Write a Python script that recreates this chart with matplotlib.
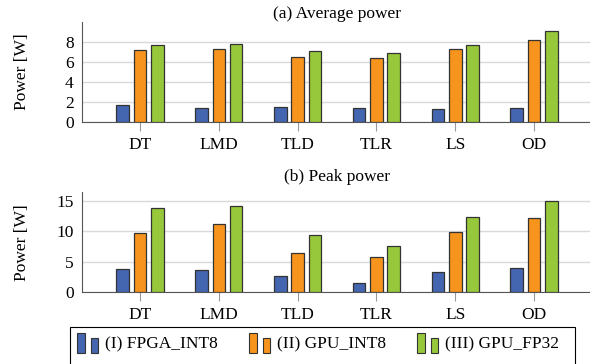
import numpy as np
import matplotlib
matplotlib.use("Agg")
import matplotlib.pyplot as plt
from matplotlib.patches import Rectangle
from matplotlib.legend_handler import HandlerBase

# data
apps = ["DT", "LMD", "TLD", "TLR", "LS", "OD"]
labels = ["(I) FPGA_INT8", "(II) GPU_INT8", "(III) GPU_FP32"]
avg_fpga = [1.73, 1.37, 1.47, 1.37, 1.33, 1.43]
avg_gpu_int8 = [7.2, 7.27, 6.53, 6.37, 7.27, 8.17]
avg_gpu_fp32 = [7.67, 7.83, 7.07, 6.9, 7.73, 9.07]
peak_fpga = [3.85, 3.64, 2.6, 1.44, 3.26, 4.03]
peak_gpu_int8 = [9.77, 11.2, 6.46, 5.8, 9.93, 12.2]
peak_gpu_fp32 = [13.86, 14.1, 9.38, 7.56, 12.36, 15.0]

colors = ["#4466B0", "#F7941D", "#97C83B"]
EDGE = "#333333"
FS = 12.5

plt.rcParams["font.family"] = ["Liberation Serif", "DejaVu Serif"]
plt.rcParams["font.size"] = FS


class TwoBarHandler(HandlerBase):
    # pgfplots-style ybar legend image: two small bars
    def create_artists(self, legend, orig_handle, xdescent, ydescent,
                       width, height, fontsize, trans):
        fc = orig_handle.get_facecolor()
        w = width * 0.36
        y0 = -ydescent - 2
        r1 = Rectangle((-xdescent, y0), w, height + 3,
                       facecolor=fc, edgecolor=EDGE, lw=0.8, transform=trans)
        r2 = Rectangle((-xdescent + width * 0.64, y0), w * 0.92,
                       (height + 3) * 0.74, facecolor=fc, edgecolor=EDGE,
                       lw=0.8, transform=trans)
        return [r1, r2]


fig = plt.figure(figsize=(5.9, 3.64), dpi=100)
ax1 = fig.add_axes([0.139, 0.6648, 0.8644, 0.2747])
ax2 = fig.add_axes([0.139, 0.1978, 0.8644, 0.2734])

x = np.arange(len(apps))
bw = 0.16
off = 0.22


def draw(ax, series, ymax, yticks, title, tpad):
    bars = []
    for i, vals in enumerate(series):
        b = ax.bar(x + (i - 1) * off, vals, bw, color=colors[i],
                   edgecolor=EDGE, linewidth=0.9, zorder=3, label=labels[i])
        bars.append(b)
    ax.set_xlim(-0.736, len(apps) - 1 + 0.736)
    ax.set_ylim(0, ymax)
    ax.set_yticks(yticks)
    ax.set_xticks(x)
    ax.set_xticklabels(apps)
    ax.grid(axis="y", color="#d9d9d9", linewidth=1.0, zorder=0)
    ax.set_axisbelow(True)
    for s in ["top", "right"]:
        ax.spines[s].set_visible(False)
    ax.spines["left"].set_color("#555555")
    ax.spines["bottom"].set_color("#555555")
    ax.tick_params(axis="y", length=0, pad=6)
    ax.tick_params(axis="x", length=6.5, width=0.8, color="#999999", pad=4)
    ax.set_ylabel("Power [W]")
    ax.yaxis.set_label_coords(-0.102, 0.5)
    ax.set_title(title, fontsize=FS, pad=tpad)
    return bars


bars = draw(ax1, [avg_fpga, avg_gpu_int8, avg_gpu_fp32], 10, [0, 2, 4, 6, 8],
            "(a) Average power", 1)
draw(ax2, [peak_fpga, peak_gpu_int8, peak_gpu_fp32], 16.4, [0, 5, 10, 15],
     "(b) Peak power", 8)

leg = fig.legend([b[0] for b in bars], labels, loc="upper left",
                 bbox_to_anchor=(70 / 590, 1 - 327 / 364), ncol=3,
                 handler_map={Rectangle: TwoBarHandler()},
                 handlelength=1.27, handleheight=1.05, handletextpad=0.35,
                 columnspacing=1.78, borderpad=0.4, borderaxespad=0,
                 frameon=False)

# legend box runs past the bottom edge of the picture
box = Rectangle((70 / 590, -0.1), 505 / 590, 1 - 327 / 364 + 0.1,
                transform=fig.transFigure, facecolor="none",
                edgecolor="black", linewidth=0.8)
fig.add_artist(box)

fig.savefig("out.png", dpi=100)
